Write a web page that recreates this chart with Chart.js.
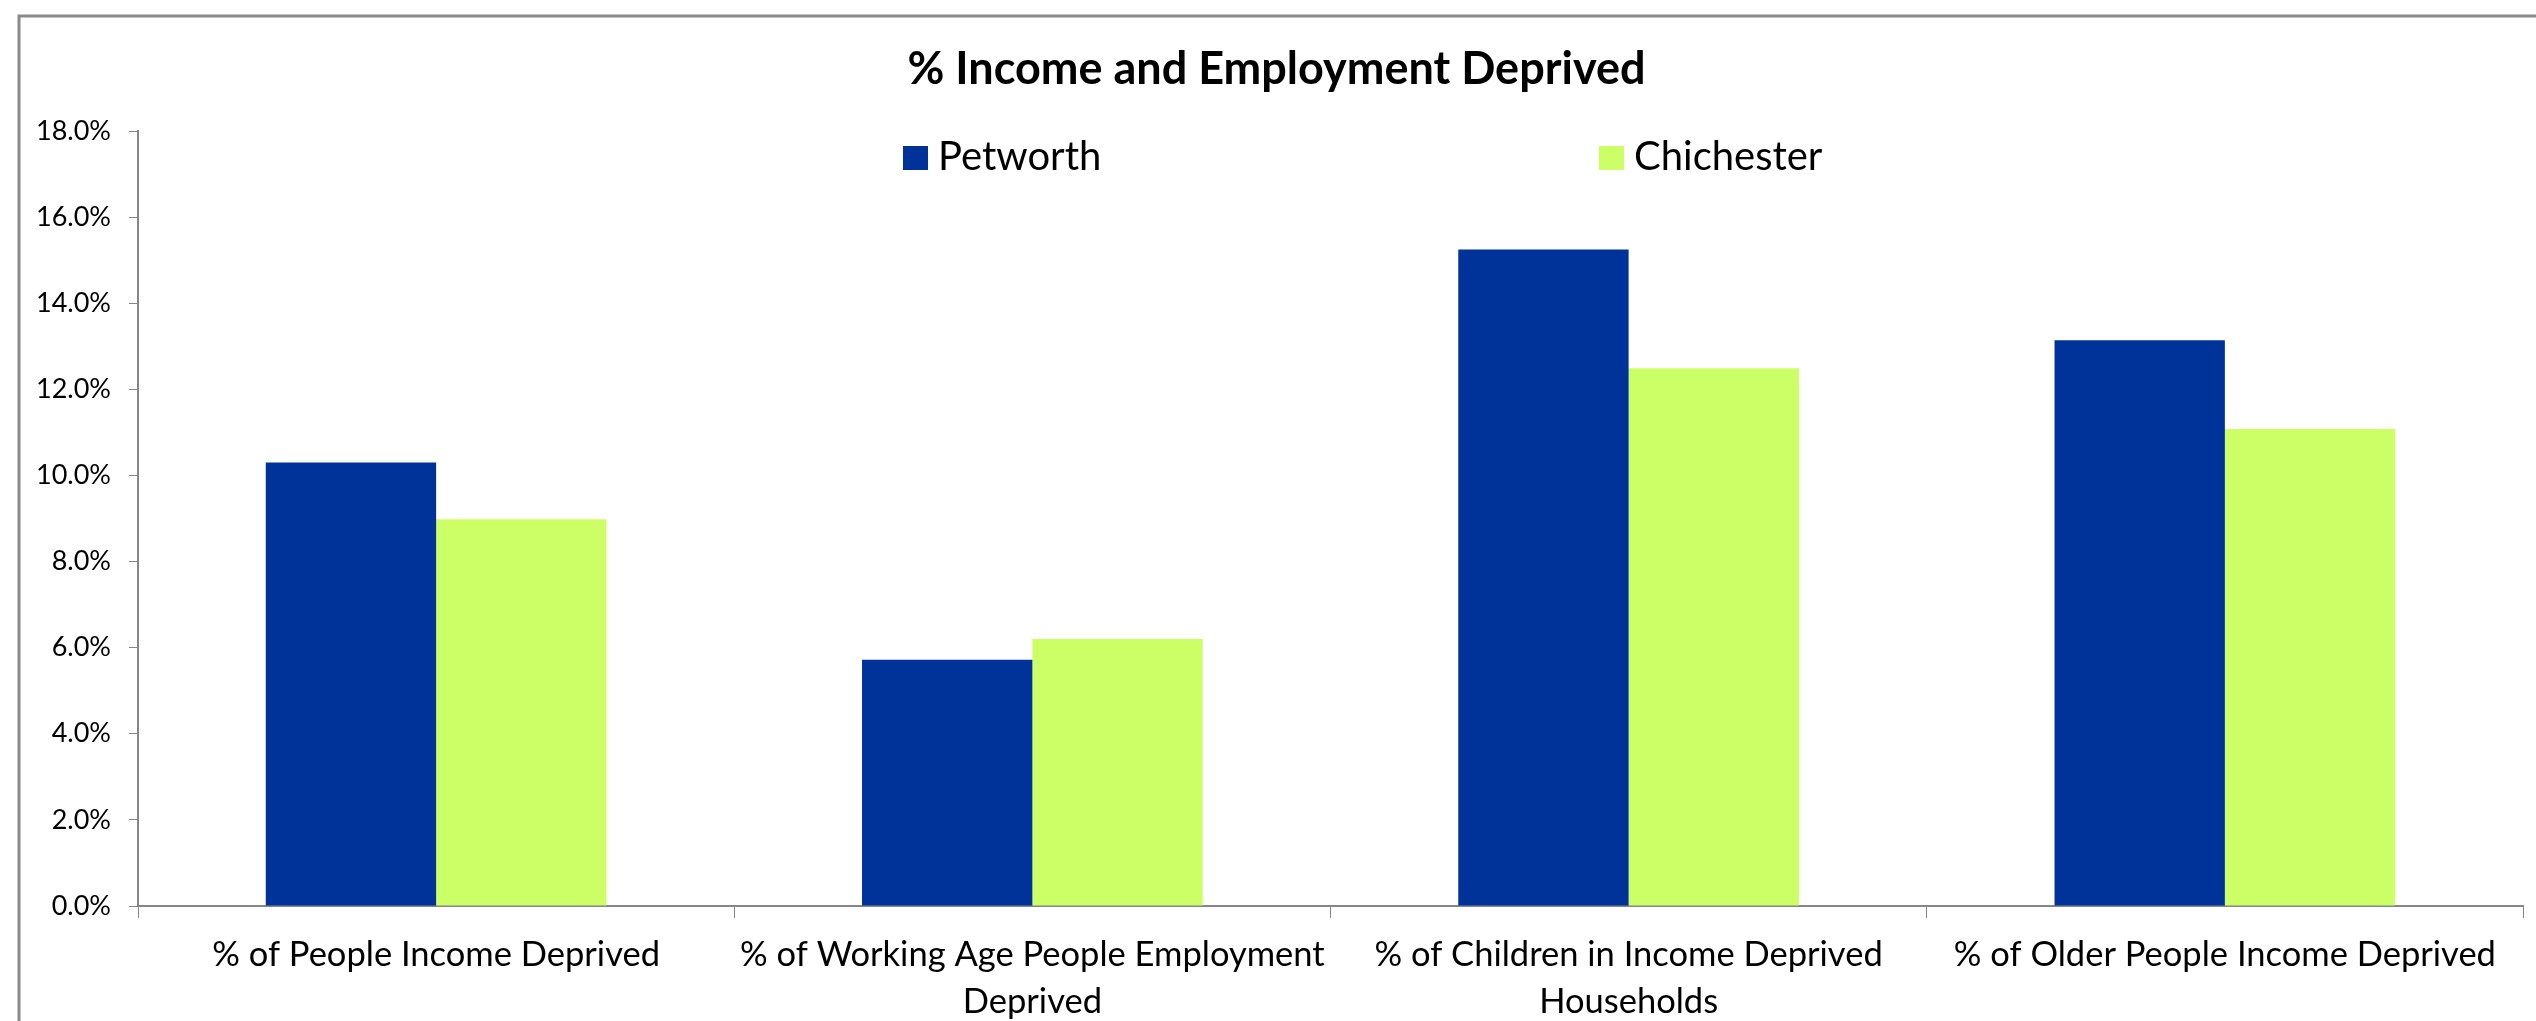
<!DOCTYPE html>
<html lang="en">
<head>
    <meta charset="UTF-8">
    <title>% Income and Employment Deprived</title>
    <script src="https://cdn.jsdelivr.net/npm/chart.js"></script>
    <style>
        html, body {
            margin: 0;
            padding: 0;
            background: #ffffff;
            overflow: hidden;
        }
        #chart {
            display: block;
        }
    </style>
</head>
<body>
    <canvas id="chart" width="2536" height="1021"></canvas>

    <script>
        // chart data
        const categories = [
            ['% of People Income Deprived'],
            ['% of Working Age People Employment', 'Deprived'],
            ['% of Children in Income Deprived', 'Households'],
            ['% of Older People Income Deprived']
        ];
        const seriesNames = ['Petworth', 'Chichester'];
        const petworth = [10.3, 5.72, 15.25, 13.14];
        const chichester = [8.98, 6.2, 12.49, 11.08];
        const seriesColors = ['#003399', '#ccff66'];
        const yTicks = [0, 2, 4, 6, 8, 10, 12, 14, 16, 18];

        const axisColor = '#868686';
        const fontFamily = 'Lato, "Liberation Sans", sans-serif';

        // frame + legend drawn inside the plot, like the Excel original
        const excelLook = {
            id: 'excelLook',
            beforeDraw(chart) {
                const ctx = chart.ctx;
                ctx.save();
                ctx.strokeStyle = '#8a8a8a';
                ctx.lineWidth = 3;
                ctx.beginPath();
                ctx.moveTo(19, chart.height);
                ctx.lineTo(19, 16);
                ctx.lineTo(chart.width, 16);
                ctx.stroke();
                ctx.restore();
            },
            afterDraw(chart) {
                const ctx = chart.ctx;
                const legendX = [903, 1599];
                const baseline = 170;
                ctx.save();
                ctx.font = '40px ' + fontFamily;
                ctx.textBaseline = 'alphabetic';
                ctx.textAlign = 'left';
                chart.data.datasets.forEach((ds, i) => {
                    ctx.fillStyle = ds.backgroundColor;
                    ctx.fillRect(legendX[i], baseline - 24, 25, 24);
                    ctx.fillStyle = '#000000';
                    ctx.fillText(ds.label, legendX[i] + 35, baseline);
                });
                ctx.restore();
            }
        };

        new Chart(document.getElementById('chart'), {
            type: 'bar',
            data: {
                labels: categories,
                datasets: [
                    {
                        label: seriesNames[0],
                        data: petworth,
                        backgroundColor: seriesColors[0]
                    },
                    {
                        label: seriesNames[1],
                        data: chichester,
                        backgroundColor: seriesColors[1]
                    }
                ]
            },
            options: {
                responsive: false,
                animation: false,
                devicePixelRatio: 1,
                datasets: {
                    bar: {
                        categoryPercentage: 4 / 7,
                        barPercentage: 1.0
                    }
                },
                layout: {
                    padding: { left: 30, right: 13, top: 0, bottom: 0 }
                },
                plugins: {
                    legend: { display: false },
                    tooltip: { enabled: false },
                    title: {
                        display: true,
                        text: '% Income and Employment Deprived',
                        color: '#000000',
                        font: { family: fontFamily, size: 45, weight: 'bold' },
                        padding: { top: 42, bottom: 35 }
                    }
                },
                scales: {
                    x: {
                        grid: {
                            drawOnChartArea: false,
                            offset: true,
                            tickLength: 12,
                            color: axisColor
                        },
                        border: { color: axisColor, width: 2 },
                        ticks: {
                            color: '#000000',
                            font: { family: fontFamily, size: 34.5, lineHeight: 1.36 },
                            padding: 13,
                            maxRotation: 0,
                            autoSkip: false
                        },
                        afterFit(scale) {
                            scale.height = 115;
                        }
                    },
                    y: {
                        min: 0,
                        max: 18,
                        afterBuildTicks(scale) {
                            scale.ticks = yTicks.map(v => ({ value: v }));
                        },
                        grid: {
                            drawOnChartArea: false,
                            tickLength: 9,
                            color: axisColor
                        },
                        border: { color: axisColor, width: 2 },
                        ticks: {
                            color: '#000000',
                            font: { family: fontFamily, size: 27 },
                            padding: 18,
                            callback: v => v.toFixed(1) + '%'
                        },
                        afterFit(scale) {
                            scale.width = 108;
                        }
                    }
                }
            },
            plugins: [excelLook]
        });
    </script>
</body>
</html>
